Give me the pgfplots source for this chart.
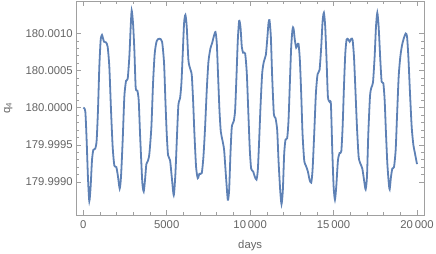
\documentclass[border=0pt]{standalone}
\usepackage{fontspec}
\setmainfont{Liberation Sans}
\usepackage{pgfplots}
\pgfplotsset{compat=1.18}

\definecolor{mmablue}{RGB}{94,129,181}
\definecolor{framegray}{RGB}{160,160,160}
\definecolor{labgray}{RGB}{100,100,100}

% q4 is plotted as (q4 - 180) * 10^4 so the FPU keeps the small wiggles
\pgfplotstableread{
day v
0 0
120 -0.5
200 -4.4
280 -9.5
360 -12.6
440 -10.6
520 -7.1
600 -5.7
720 -5.5
800 -4.4
880 -0.3
960 5.5
1040 9.1
1120 9.8
1240 8.9
1360 8.8
1460 8.2
1560 5.5
1660 -0.3
1760 -5.3
1860 -7.8
1980 -8.0
2080 -9.3
2180 -10.9
2260 -9.3
2360 -4.4
2460 1.5
2560 3.6
2660 3.9
2760 6.9
2840 10.9
2900 13.1
2980 11.4
3060 7.8
3140 2.7
3240 2.3
3320 1.0
3400 -3.5
3480 -7.5
3540 -10.2
3620 -11.3
3700 -9.7
3780 -7.6
3880 -7.1
3960 -6.2
4080 -2.6
4180 3.3
4280 7.3
4400 9.0
4560 9.3
4720 8.9
4840 6.0
4920 1.0
5000 -3.5
5080 -6.4
5200 -7.1
5300 -9.3
5420 -11.8
5520 -8.9
5620 -3.5
5700 0.4
5800 1.3
5880 3.3
5960 7.3
6040 11.4
6120 12.5
6200 10.9
6300 6.4
6400 5.3
6500 4.4
6580 1.0
6660 -3.5
6760 -8.0
6860 -9.5
6960 -8.9
7100 -8.8
7200 -6.6
7300 -2.6
7400 2.4
7500 6.2
7620 8.0
7720 8.7
7820 9.6
7920 10.2
8000 8.7
8080 4.2
8160 -0.3
8240 -3.2
8340 -4.4
8440 -5.7
8540 -8.9
8660 -12.4
8740 -11.1
8820 -6.2
8900 -2.6
9020 -1.8
9100 -0.3
9180 4.2
9260 9.1
9340 11.7
9420 10.9
9500 8.2
9580 7.4
9700 7.3
9800 4.6
9900 -1.2
9980 -5.7
10060 -8.2
10180 -8.6
10280 -9.3
10380 -9.7
10460 -8.4
10540 -4.4
10620 0.1
10720 4.6
10820 6.2
10940 7.1
11020 9.1
11100 11.4
11160 11.8
11240 9.6
11320 4.2
11420 -0.8
11520 -1.4
11620 -3.0
11700 -7.1
11800 -11.1
11880 -13.0
11960 -11.1
12040 -6.2
12120 -4.3
12220 -4.1
12300 -1.7
12380 3.3
12460 8.2
12540 10.6
12600 10.7
12680 9.1
12760 8.1
12820 8.4
12900 8.6
12980 6.4
13060 1.9
13140 -3.5
13240 -7.1
13340 -7.8
13460 -8.6
13560 -9.7
13660 -10.1
13740 -8.4
13840 -3.5
13940 1.9
14040 4.5
14160 5.1
14260 8.2
14340 11.6
14420 12.8
14500 10.9
14580 6.4
14660 1.5
14760 0.8
14840 0.5
14922 -5.7
15002 -10.6
15082 -12.4
15162 -10.6
15262 -7.1
15362 -6.1
15462 -5.9
15542 -2.6
15622 2.8
15702 7.3
15782 9.2
15882 9.2
15962 8.9
16062 9.3
16142 9.1
16222 6.9
16302 2.8
16402 -2.6
16502 -6.6
16602 -7.5
16722 -8.2
16842 -10.0
16922 -11.0
17002 -9.3
17082 -3.5
17182 1.5
17262 2.7
17362 3.4
17462 6.9
17542 10.9
17622 12.8
17702 10.9
17802 6.4
17882 3.5
17982 3.3
18062 1.0
18142 -3.5
18222 -7.5
18302 -10.0
18362 -11.0
18442 -9.3
18522 -8.2
18622 -8.0
18722 -5.7
18802 -1.2
18902 4.2
19002 6.9
19102 8.4
19202 9.3
19322 10.0
19402 9.6
19482 6.9
19582 1.9
19682 -2.6
19782 -5.0
19882 -6.2
20000 -7.6
}\qfour

\begin{document}
\begin{tikzpicture}
\begin{axis}[
    scale only axis,
    width=347.7pt, height=214pt,
    xmin=-420, xmax=20420,
    ymin=-14.46, ymax=14.38,
    axis line style={framegray, line width=0.6pt},
    tick style={framegray, line width=0.6pt},
    tick align=inside,
    tick pos=both,
    major tick length=5pt,
    minor tick length=3pt,
    scaled x ticks=false,
    scaled y ticks=false,
    xtick={0,5000,10000,15000,20000},
    xticklabels={0,5000,10\,000,15\,000,20\,000},
    minor x tick num=4,
    ytick={-10,-5,0,5,10},
    yticklabels={179.9990,179.9995,180.0000,180.0005,180.0010},
    minor y tick num=4,
    ticklabel style={font=\fontsize{11.3}{13}\selectfont, text=labgray},
    xticklabel style={yshift=-2pt},
    label style={font=\fontsize{11.3}{13}\selectfont, text=labgray},
    xlabel={days},
    ylabel={q\textsubscript{4}},
    xlabel style={at={(axis description cs:0.5,-0.145)}, anchor=center},
    ylabel style={at={(axis description cs:-0.196,0.5)}, anchor=center},
]
\addplot[mmablue, line width=1.8pt, smooth, tension=0.4] table[x=day, y=v] {\qfour};
\end{axis}
\pgfresetboundingbox
\path ([shift={(-76.3pt,-39pt)}]current axis.south west) rectangle ([shift={(12pt,1pt)}]current axis.north east);
\end{tikzpicture}
\end{document}
